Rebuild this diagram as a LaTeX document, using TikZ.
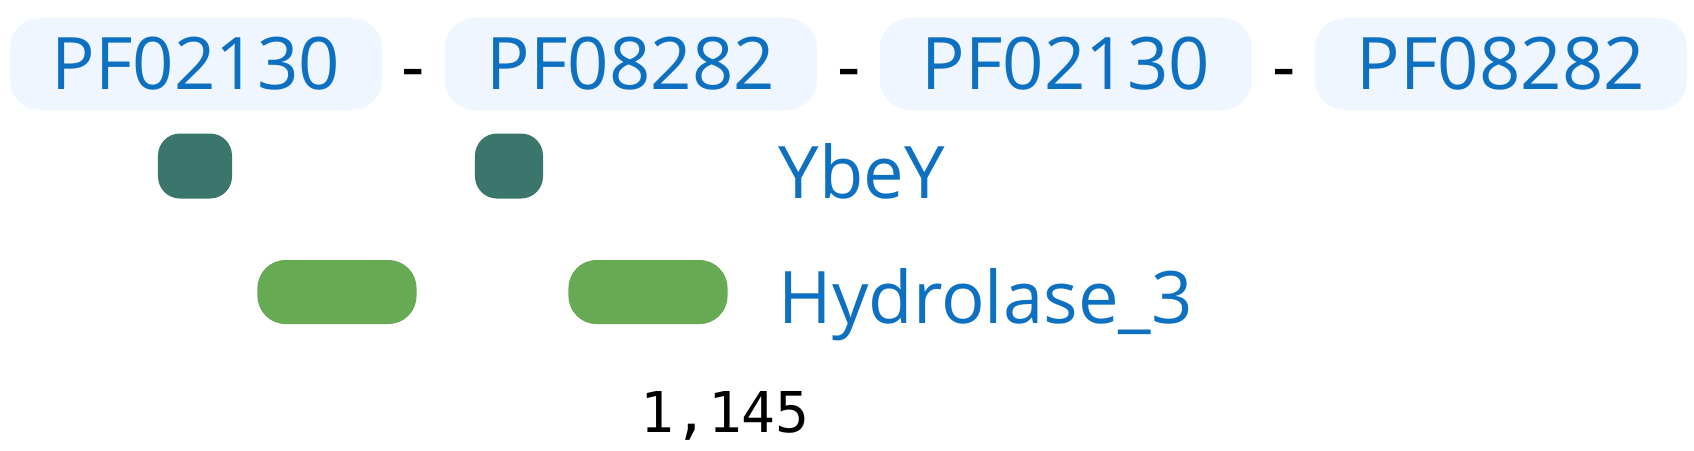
\documentclass[tikz,border=0pt]{standalone}
\usepackage{fontspec}
\setmainfont{Open Sans}
\setmonofont{DejaVu Sans Mono}
\usetikzlibrary{positioning}
\definecolor{pfBg}{RGB}{239,246,255}
\definecolor{pfBlue}{RGB}{14,112,192}
\definecolor{ybeyTeal}{RGB}{58,118,108}
\definecolor{hydroGreen}{RGB}{102,170,83}
\newcommand{\famFont}{\fontsize{20.6}{24}\selectfont}
\tikzset{
	pfBox/.style={fill=pfBg,rounded corners=.3cm,minimum width=3.72cm,minimum height=.92cm,
		text=pfBlue,font=\famFont,inner sep=0pt},
	sepDash/.style={anchor=base,font=\famFont,text=black,inner sep=0pt},
	ybeyHit/.style={fill=ybeyTeal,rounded corners=.22cm,minimum height=.65cm,inner sep=0pt},
	hydroHit/.style={fill=hydroGreen,rounded corners=.28cm,minimum width=1.59cm,minimum height=.64cm,inner sep=0pt},
	famLabel/.style={anchor=base west,text=pfBlue,font=\famFont,inner sep=0pt},
}

\begin{document}
\begin{tikzpicture}[x=.01cm,y=-.01cm]
\useasboundingbox (0,0) rectangle (1694,450);

% domain architecture
\node[pfBox] (pfA) at (196,64) {PF02130};
\node[pfBox] (pfB) at (631,64) {PF08282};
\node[pfBox] (pfC) at (1066,64) {PF02130};
\node[pfBox] (pfD) at (1501,64) {PF08282};
\node[sepDash] (dashA) at (413,91) {-};
\node[sepDash] (dashB) at (849,91) {-};
\node[sepDash] (dashC) at (1284,91) {-};

% YbeY hits
\node[ybeyHit,minimum width=.74cm] (ybeyA) at (195,166) {};
\node[ybeyHit,minimum width=.68cm] (ybeyB) at (509,166) {};
\node[famLabel] (ybeyLbl) at (778,198) {YbeY};

% Hydrolase_3 hits
\node[hydroHit] (hydroA) at (337,292) {};
\node[hydroHit] (hydroB) at (648,292) {};
\node[famLabel] (hydroLbl) at (778,323) {Hydrolase\_3};

% count
\node[anchor=base,font=\ttfamily\fontsize{16}{20}\selectfont,inner sep=0pt] (count) at (725,432) {1,145};

\end{tikzpicture}
\end{document}
